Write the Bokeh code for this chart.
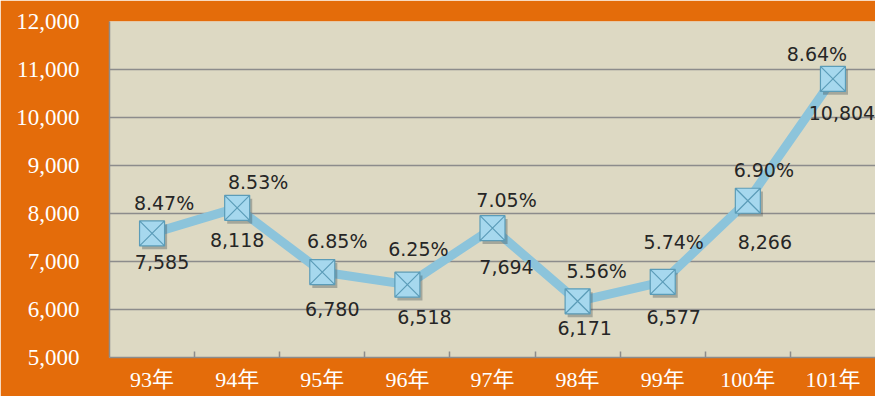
from bokeh.plotting import figure
from bokeh.models import ColumnDataSource, FixedTicker, Range1d, NumeralTickFormatter
from bokeh.transform import dodge
from bokeh.embed import file_html
from bokeh.resources import INLINE
from bokeh.core.properties import value

# ---- data ----
years = ["93年", "94年", "95年", "96年", "97年", "98年", "99年", "100年", "101年"]
counts = [7585, 8118, 6780, 6518, 7694, 6171, 6577, 8266, 10804]
rates = ["8.47%", "8.53%", "6.85%", "6.25%", "7.05%", "5.56%", "5.74%", "6.90%", "8.64%"]
y_ticks = [5000, 6000, 7000, 8000, 9000, 10000, 11000, 12000]

# label placement (screen px, relative to point)
rate_dx = [12, 21, 15, 11, 14, 19, 11, 16, -16]
rate_dy = [30, 26, 31, 36, 28, 30, 40, 31, 25]
count_dx = [10, 0, 10, 17, 14, 7, 11, 17, 9]
count_dy = [-29, -32, -37, -32, -39, -27, -35, -41, -34]

ORANGE = "#E46C0A"
BEIGE = "#DDD9C3"
GRID = "#8C8C8C"

xs = [i + 0.5 for i in range(len(years))]
src = ColumnDataSource(dict(x=xs, y=counts,
                            rate=rates, count=[f"{c:,}" for c in counts],
                            rdx=rate_dx, rdy=[-d for d in rate_dy],
                            cdx=count_dx, cdy=[-d for d in count_dy]))

p = figure(width=875, height=396, output_backend="svg", toolbar_location=None,
           x_range=Range1d(0, len(years)), y_range=Range1d(5000, 12000),
           min_border_left=109, min_border_top=21, min_border_bottom=39, min_border_right=0)
p.background_fill_color = BEIGE
p.border_fill_color = ORANGE
p.outline_line_color = None

# axes
serif = "'Liberation Serif', 'Noto Sans CJK TC', serif"
p.yaxis.ticker = FixedTicker(ticks=y_ticks)
p.yaxis.formatter = NumeralTickFormatter(format="0,0")
p.yaxis.major_label_text_font = serif
p.yaxis.major_label_text_font_size = "23px"
p.yaxis.major_label_text_color = "white"
p.yaxis.major_tick_in = 0
p.yaxis.major_tick_out = 0
p.yaxis.minor_tick_line_color = None
p.yaxis.axis_line_color = GRID
p.yaxis.axis_line_width = 1.5
p.yaxis.major_label_standoff = 30

p.xaxis.ticker = FixedTicker(ticks=xs, minor_ticks=list(range(1, len(years))))
p.xaxis.major_label_overrides = {x: y for x, y in zip(xs, years)}
p.xaxis.major_label_text_font = serif
p.xaxis.major_label_text_font_size = "22px"
p.xaxis.major_label_text_color = "white"
p.xaxis.major_tick_in = 0
p.xaxis.major_tick_out = 0
p.xaxis.minor_tick_in = 6
p.xaxis.minor_tick_out = 0
p.xaxis.minor_tick_line_color = GRID
p.xaxis.minor_tick_line_width = 1.5
p.xaxis.axis_line_color = GRID
p.xaxis.axis_line_width = 1.5
p.xaxis.major_label_standoff = 9

p.xgrid.grid_line_color = None
p.ygrid.ticker = FixedTicker(ticks=y_ticks)
p.ygrid.grid_line_color = GRID
p.ygrid.grid_line_width = 1.5

# line
p.line("x", "y", source=src, line_color="#8CC4DB", line_width=9)

# marker shadow + marker
p.scatter(dodge("x", 0.03), dodge("y", -70), source=src, marker="square", size=25,
          fill_color="#3A4A50", fill_alpha=0.35, line_color=None)
p.scatter("x", "y", source=src, marker="square_x", size=25,
          fill_color="#A6D8EE", line_color="#5B9CB8", line_width=1.2)

# labels
p.text("x", "y", text="rate", source=src, x_offset="rdx", y_offset="rdy",
       text_align="center", text_baseline="middle", text_color="#262626",
       text_font=value("DejaVu Sans"), text_font_size="19px")
p.text("x", "y", text="count", source=src, x_offset="cdx", y_offset="cdy",
       text_align="center", text_baseline="middle", text_color="#262626",
       text_font=value("DejaVu Sans"), text_font_size="19px")

open("out.html", "w").write(file_html(p, INLINE))
